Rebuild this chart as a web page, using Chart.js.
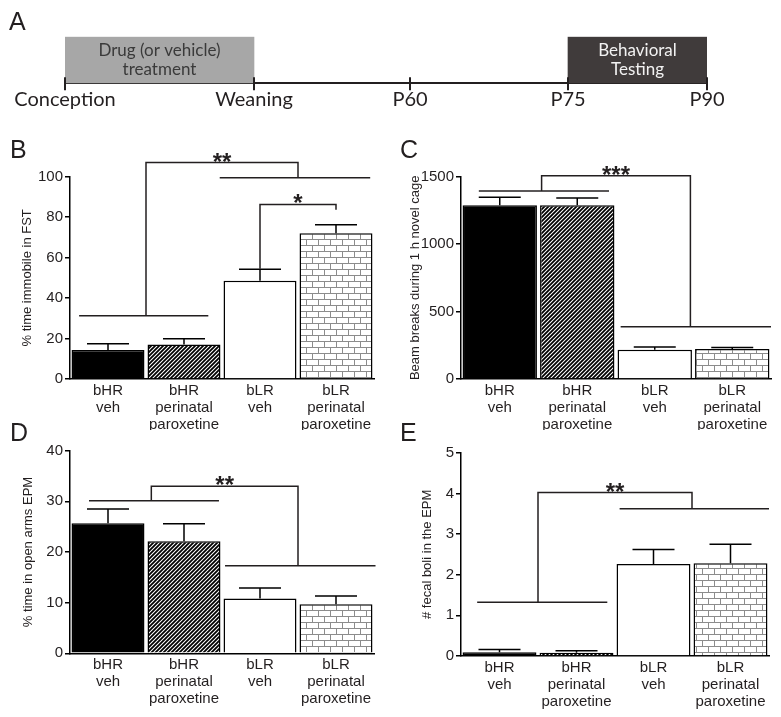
<!DOCTYPE html>
<html>
<head>
<meta charset="utf-8">
<script src="https://cdn.jsdelivr.net/npm/chart.js@4.4.1/dist/chart.umd.min.js"></script>
<style>
    body { margin: 0; background: #fff; }
    #wrap { position: relative; width: 781px; height: 717px; overflow: hidden; }
    canvas { position: absolute; }
</style>
</head>
<body>
<div id="wrap">
    <canvas id="panelA" style="left:0;top:0" width="781" height="120"></canvas>
    <canvas id="panelB" style="left:0;top:125px" width="390" height="305"></canvas>
    <canvas id="panelC" style="left:390px;top:125px" width="391" height="305"></canvas>
    <canvas id="panelD" style="left:0;top:400px" width="390" height="317"></canvas>
    <canvas id="panelE" style="left:390px;top:400px" width="391" height="317"></canvas>
</div>
<script>
// timeline (schematic, not to scale)
const timelineStops = ['Conception', 'Weaning', 'P60', 'P75', 'P90'];
const timelinePos = [0, 189, 345, 503, 642];
const periodLabels = [['Drug (or vehicle)', 'treatment'], ['Behavioral', 'Testing']];
const periodStart = [0, 3];
const periodEnd = [1, 4];

// bar groups
const groups = [['bHR', 'veh'], ['bHR', 'perinatal', 'paroxetine'], ['bLR', 'veh'], ['bLR', 'perinatal', 'paroxetine']];

const fstMean = [14.3, 17.1, 48.6, 72.0];
const fstSem = [3.1, 2.8, 5.6, 4.3];
const cageMean = [1288, 1288, 217, 222];
const cageSem = [59, 54, 20, 12];
const epmMean = [25.7, 22.1, 10.8, 9.7];
const epmSem = [2.8, 3.5, 2.1, 1.6];
const boliMean = [0.09, 0.08, 2.26, 2.28];
const boliSem = [0.07, 0.05, 0.36, 0.47];

// significance: group lines [from, to, value] in category units, brackets between them
const fstLines = [[-0.38, 1.32, 31.3], [1.47, 3.45, 99.5]];
const fstStats = [
    { from: 0.5, to: 2.5, top: 107, left: 31.3, right: 99.5, stars: '**' },
    { from: 2, to: 3, top: 86.3, left: 54.5, right: 83.7, stars: '*' }
];
const cageLines = [[-0.27, 1.41, 1394], [1.56, 3.5, 388]];
const cageStats = [{ from: 0.54, to: 2.46, top: 1507, left: 1394, right: 388, stars: '***' }];
const epmLines = [[-0.25, 1.46, 30.1], [1.54, 3.52, 17.3]];
const epmStats = [{ from: 0.57, to: 2.5, top: 33, left: 30.1, right: 17.3, stars: '**' }];
const boliLines = [[-0.29, 1.4, 1.32], [1.56, 3.5, 3.62]];
const boliStats = [{ from: 0.5, to: 2.5, top: 4.02, left: 1.32, right: 3.62, stars: '**' }];

const ink = '#231f20';
const sans = "Arial, 'Liberation Sans', Helvetica, sans-serif";

function hatchPattern() {
    const c = document.createElement('canvas');
    c.width = 4; c.height = 4;
    const g = c.getContext('2d');
    g.fillStyle = '#fff';
    g.fillRect(0, 0, 4, 4);
    g.strokeStyle = '#000';
    g.lineWidth = 1.8;
    g.beginPath();
    g.moveTo(-1, 5); g.lineTo(5, -1);
    g.moveTo(-1, 1); g.lineTo(1, -1);
    g.moveTo(3, 5); g.lineTo(5, 3);
    g.stroke();
    return g.createPattern(c, 'repeat');
}

function brickPattern() {
    const c = document.createElement('canvas');
    c.width = 12; c.height = 12;
    const g = c.getContext('2d');
    g.fillStyle = '#fff';
    g.fillRect(0, 0, 12, 12);
    g.strokeStyle = '#8c8c8c';
    g.lineWidth = 1;
    g.beginPath();
    g.moveTo(0, 0.5); g.lineTo(12, 0.5);
    g.moveTo(0, 6.5); g.lineTo(12, 6.5);
    g.moveTo(0.5, 0); g.lineTo(0.5, 6);
    g.moveTo(6.5, 6); g.lineTo(6.5, 12);
    g.stroke();
    return g.createPattern(c, 'repeat');
}

const fills = ['#000', hatchPattern(), '#fff', brickPattern()];

const extras = {
    id: 'extras',
    afterDatasetsDraw(chart, args, opts) {
        if (!opts.sem) return;
        const ctx = chart.ctx;
        const x = chart.scales.x, y = chart.scales.y;
        const values = chart.data.datasets[0].data;
        ctx.save();
        ctx.strokeStyle = '#000';
        ctx.lineWidth = 1.5;
        chart.getDatasetMeta(0).data.forEach((bar, i) => {
            const top = y.getPixelForValue(values[i] + opts.sem[i]);
            ctx.beginPath();
            ctx.moveTo(bar.x, bar.y);
            ctx.lineTo(bar.x, top);
            ctx.moveTo(bar.x - opts.cap / 2, top);
            ctx.lineTo(bar.x + opts.cap / 2, top);
            ctx.stroke();
        });

        ctx.strokeStyle = ink;
        ctx.fillStyle = ink;
        opts.lines.forEach(([a, b, v]) => {
            ctx.beginPath();
            ctx.moveTo(x.getPixelForValue(a), y.getPixelForValue(v));
            ctx.lineTo(x.getPixelForValue(b), y.getPixelForValue(v));
            ctx.stroke();
        });
        ctx.font = 'bold 24px ' + sans;
        ctx.textAlign = 'center';
        ctx.textBaseline = 'alphabetic';
        opts.stats.forEach(s => {
            const xl = x.getPixelForValue(s.from), xr = x.getPixelForValue(s.to);
            const yt = y.getPixelForValue(s.top);
            ctx.beginPath();
            ctx.moveTo(xl, y.getPixelForValue(s.left));
            ctx.lineTo(xl, yt);
            ctx.lineTo(xr, yt);
            ctx.lineTo(xr, y.getPixelForValue(s.right));
            ctx.stroke();
            ctx.fillText(s.stars, (xl + xr) / 2, yt + 7);
        });
        ctx.restore();
    },
    afterDraw(chart, args, opts) {
        if (!opts.letter) return;
        const ctx = chart.ctx;
        ctx.save();
        ctx.fillStyle = ink;
        ctx.font = '25px ' + sans;
        ctx.textAlign = 'left';
        ctx.textBaseline = 'alphabetic';
        ctx.fillText(opts.letter, opts.letterX, opts.letterY);
        ctx.restore();
    }
};

function barPanel(id, o) {
    return new Chart(document.getElementById(id), {
        type: 'bar',
        data: {
            labels: groups,
            datasets: [{
                data: o.mean,
                backgroundColor: fills,
                borderColor: '#000',
                borderWidth: 1.5,
                borderSkipped: 'bottom',
                barPercentage: 0.96,
                categoryPercentage: 1
            }]
        },
        options: {
            responsive: false,
            animation: false,
            devicePixelRatio: 1,
            layout: { padding: { top: o.padTop, right: o.padRight, left: 0, bottom: 0 } },
            scales: {
                x: {
                    grid: { display: false, drawTicks: false },
                    border: { display: true, color: '#000', width: 1.5 },
                    ticks: {
                        color: ink, padding: 3, maxRotation: 0, autoSkip: false,
                        font: { family: sans, size: 15, lineHeight: 1.13 }
                    },
                    afterFit: s => { s.height = o.xHeight; }
                },
                y: {
                    min: 0, max: o.max,
                    ticks: {
                        stepSize: o.step, color: ink, padding: 2,
                        font: { family: sans, size: 15 },
                        callback: v => String(v)
                    },
                    grid: { drawOnChartArea: false, color: '#000', lineWidth: 1.5, tickLength: 5 },
                    border: { color: '#000', width: 1.5 },
                    title: {
                        display: true, text: o.title, color: ink,
                        font: { family: sans, size: 13 },
                        padding: { top: o.titlePad, bottom: 0 }
                    },
                    afterFit: s => { s.width = o.yWidth; }
                }
            },
            plugins: {
                legend: { display: false },
                tooltip: { enabled: false },
                extras: {
                    sem: o.sem, cap: 42, lines: o.lines, stats: o.stats,
                    letter: o.letter, letterX: 10, letterY: o.letterY
                }
            }
        },
        plugins: [extras]
    });
}

barPanel('panelB', {
    mean: fstMean, sem: fstSem, lines: fstLines, stats: fstStats, max: 100, step: 20,
    title: '% time immobile in FST', letter: 'B', letterY: 33,
    padTop: 51.7, padRight: 16, xHeight: 51, yWidth: 70, titlePad: 20
});
barPanel('panelC', {
    mean: cageMean, sem: cageSem, lines: cageLines, stats: cageStats, max: 1500, step: 500,
    title: 'Beam breaks during 1 h novel cage', letter: 'C', letterY: 33,
    padTop: 51.7, padRight: 10, xHeight: 51, yWidth: 71, titlePad: 18
});
barPanel('panelD', {
    mean: epmMean, sem: epmSem, lines: epmLines, stats: epmStats, max: 40, step: 10,
    title: '% time in open arms EPM', letter: 'D', letterY: 41,
    padTop: 50.7, padRight: 16, xHeight: 63.7, yWidth: 70, titlePad: 21
});
barPanel('panelE', {
    mean: boliMean, sem: boliSem, lines: boliLines, stats: boliStats, max: 5, step: 1,
    title: '# fecal boli in the EPM', letter: 'E', letterY: 41,
    padTop: 52.7, padRight: 12, xHeight: 61, yWidth: 71, titlePad: 30
});

// panel A: timeline drawn as floating bars on a linear scale
const timeline = {
    id: 'timeline',
    afterDatasetsDraw(chart) {
        const ctx = chart.ctx;
        const x = chart.scales.x;
        const area = chart.chartArea;
        ctx.save();
        ctx.strokeStyle = ink;
        ctx.lineWidth = 2;
        timelinePos.forEach(v => {
            const px = Math.round(x.getPixelForValue(v));
            ctx.beginPath();
            ctx.moveTo(px, area.bottom - 6);
            ctx.lineTo(px, area.bottom + 7);
            ctx.stroke();
        });
        ctx.font = "17px Lato, 'Liberation Sans', sans-serif";
        ctx.textAlign = 'center';
        ctx.textBaseline = 'middle';
        const mid = (area.top + area.bottom) / 2;
        periodLabels.forEach((lines, i) => {
            const cx = (x.getPixelForValue(timelinePos[periodStart[i]]) + x.getPixelForValue(timelinePos[periodEnd[i]])) / 2;
            ctx.fillStyle = i === 0 ? '#3a3a3a' : '#f2f2f2';
            lines.forEach((t, k) => ctx.fillText(t, cx, mid - 9.5 + k * 19.5));
        });
        ctx.fillStyle = ink;
        ctx.font = '25px ' + sans;
        ctx.textAlign = 'left';
        ctx.textBaseline = 'alphabetic';
        ctx.fillText('A', 9, 30);
        ctx.restore();
    }
};

new Chart(document.getElementById('panelA'), {
    type: 'bar',
    data: {
        labels: [''],
        datasets: periodLabels.map((_, i) => ({
            data: [[timelinePos[periodStart[i]], timelinePos[periodEnd[i]]]],
            backgroundColor: i === 0 ? '#a7a7a7' : '#403b3b',
            borderWidth: 0,
            grouped: false,
            barPercentage: 1,
            categoryPercentage: 1
        }))
    },
    options: {
        indexAxis: 'y',
        responsive: false,
        animation: false,
        devicePixelRatio: 1,
        layout: { padding: { left: 65, right: 74, top: 36.7, bottom: 0 } },
        scales: {
            x: {
                type: 'linear',
                min: timelinePos[0],
                max: timelinePos[timelinePos.length - 1],
                afterBuildTicks: s => { s.ticks = timelinePos.map(v => ({ value: v })); },
                ticks: {
                    color: ink, padding: 4, maxRotation: 0, autoSkip: false,
                    font: { family: "Lato, 'Liberation Sans', sans-serif", size: 20 },
                    callback: (v, i) => timelineStops[i]
                },
                grid: { display: false, drawTicks: false },
                border: { display: true, color: ink, width: 2 },
                afterFit: s => { s.height = 36.7; }
            },
            y: { display: false }
        },
        plugins: { legend: { display: false }, tooltip: { enabled: false } }
    },
    plugins: [timeline]
});
</script>
</body>
</html>
